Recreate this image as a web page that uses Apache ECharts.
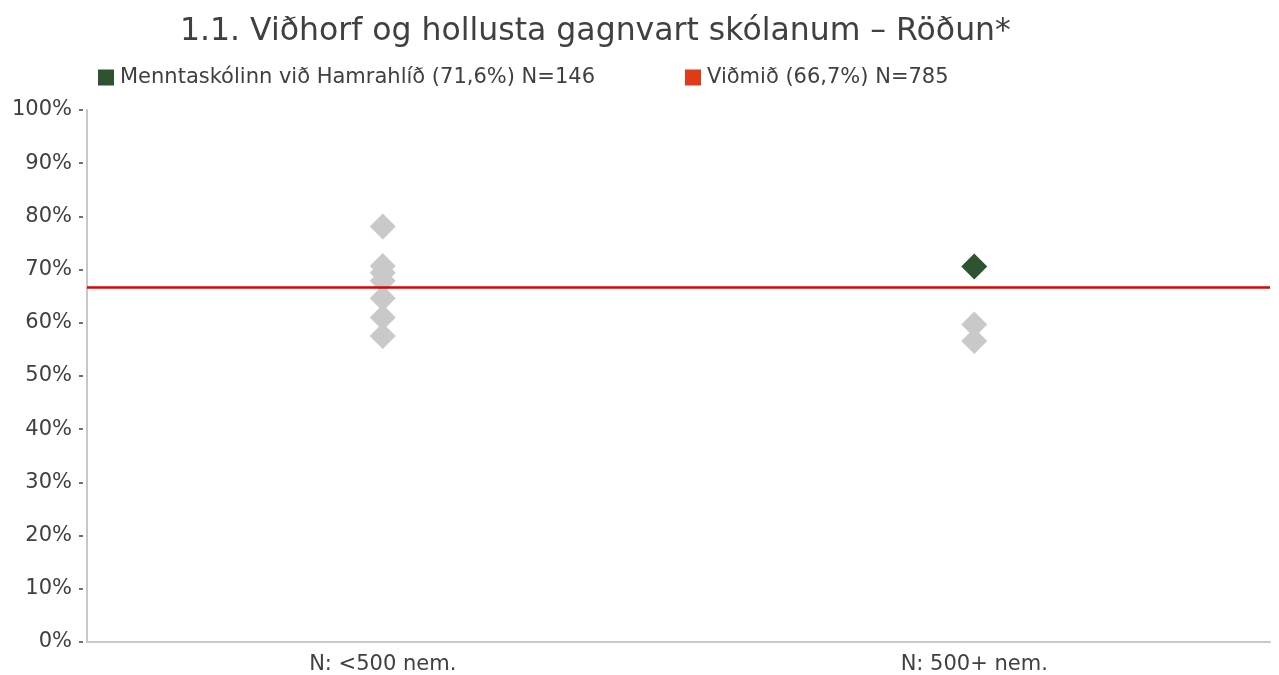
<!DOCTYPE html>
<html>
<head>
<meta charset="utf-8">
<script src="https://cdn.jsdelivr.net/npm/echarts@6/dist/echarts.min.js"></script>
<style>html,body{margin:0;padding:0;background:#fff}#c{width:1279px;height:675px}</style>
</head>
<body>
<div id="c"></div>
<script>
const titleText = '1.1. Viðhorf og hollusta gagnvart skólanum – Röðun*';
const categories = ['N: <500 nem.', 'N: 500+ nem.'];
const yTicks = [0, 10, 20, 30, 40, 50, 60, 70, 80, 90, 100];
const otherSmall = [78.1, 70.7, 69.4, 67.9, 64.6, 61.0, 57.5];
const otherLarge = [59.7, 56.6];
const schoolName = 'Menntaskólinn við Hamrahlíð (71,6%) N=146';
const schoolValue = 70.6;
const schoolCategory = 1;
const benchName = 'Viðmið (66,7%) N=785';
const benchValue = 66.7;

const FONT = 'DejaVu Sans';
const greyData = otherSmall.map(v => [0, v]).concat(otherLarge.map(v => [1, v]));

const chart = echarts.init(document.getElementById('c'));
chart.setOption({
  animation: false,
  textStyle: { fontFamily: FONT },
  title: {
    text: titleText, left: 175, top: 11,
    textStyle: { fontFamily: FONT, fontSize: 31.5, fontWeight: 'normal', color: '#404040' }
  },
  legend: [
    { data: [schoolName], left: 93, top: 62, itemWidth: 16, itemHeight: 16, itemGap: 10,
      icon: 'rect', textStyle: { fontFamily: FONT, fontSize: 21, color: '#404040', padding: [0,0,0,1] } },
    { data: [benchName], left: 680, top: 62, itemWidth: 16, itemHeight: 16,
      icon: 'rect', textStyle: { fontFamily: FONT, fontSize: 21, color: '#404040', padding: [0,0,0,1] } }
  ],
  grid: { left: 87, right: 9, top: 110, bottom: 32, containLabel: false },
  xAxis: {
    type: 'category', data: categories,
    axisLine: { lineStyle: { color: '#c8c8c8', width: 2 } },
    axisTick: { show: false },
    axisLabel: { fontFamily: FONT, fontSize: 21, color: '#404040', margin: 12 }
  },
  yAxis: [
    { type: 'value', min: 0, max: 100, interval: 10, offset: 4,
      axisLine: { show: false },
      axisTick: { show: true, length: 4, lineStyle: { color: '#404040', width: 1.5 } },
      splitLine: { show: false },
      axisLabel: { formatter: '{value}%', fontFamily: FONT, fontSize: 21, color: '#404040', margin: 11 } },
    { type: 'value', min: 0, max: 100, interval: 10, position: 'left',
      axisLine: { show: true, lineStyle: { color: '#c8c8c8', width: 2 } },
      axisTick: { show: false }, axisLabel: { show: false }, splitLine: { show: false } }
  ],
  series: [
    { name: 'others', type: 'scatter', yAxisIndex: 0, symbol: 'diamond', symbolSize: 26,
      itemStyle: { color: '#c9c9c9', opacity: 1 }, data: greyData, z: 2 },
    { name: benchName, type: 'scatter', yAxisIndex: 0, data: [],
      itemStyle: { color: '#e03a16', opacity: 1 },
      markLine: { silent: true, symbol: 'none', label: { show: false },
        lineStyle: { color: '#e00000', width: 2.5, type: 'solid', opacity: 1 },
        data: [{ yAxis: benchValue }] }, z: 3 },
    { name: schoolName, type: 'scatter', yAxisIndex: 0, symbol: 'diamond', symbolSize: 26,
      itemStyle: { color: '#2f5230', opacity: 1 }, data: [[schoolCategory, schoolValue]], z: 4 }
  ]
});
</script>
</body>
</html>
